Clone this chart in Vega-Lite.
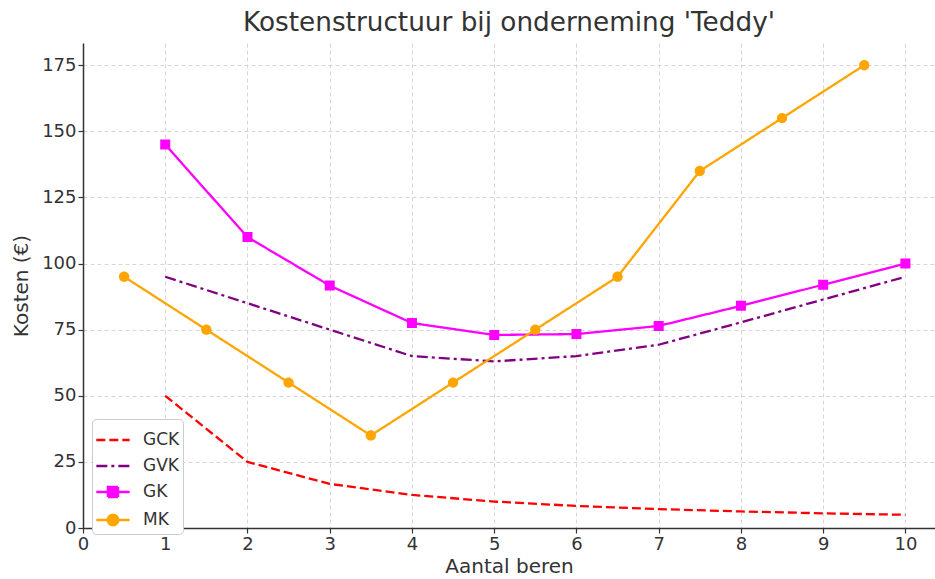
{
  "$schema": "https://vega.github.io/schema/vega-lite/v6.json",
  "width": 852,
  "height": 485,
  "autosize": {"type": "none"},
  "padding": {"left": 83, "top": 43, "right": 0, "bottom": 51},
  "background": "white",
  "title": {
    "text": "Kostenstructuur bij onderneming 'Teddy'",
    "font": "DejaVu Sans",
    "fontSize": 26.3,
    "fontWeight": "normal",
    "color": "#333333",
    "anchor": "middle",
    "offset": 7
  },
  "config": {
    "view": {"stroke": null},
    "font": "DejaVu Sans",
    "axis": {
      "labelFont": "DejaVu Sans",
      "labelFontSize": 18,
      "labelColor": "#333333",
      "titleFont": "DejaVu Sans",
      "titleFontSize": 20,
      "titleFontWeight": "normal",
      "titleColor": "#333333",
      "domainColor": "#333333",
      "domainWidth": 1.5,
      "tickColor": "#333333",
      "tickWidth": 1.2,
      "tickSize": 5,
      "gridColor": "#cccccc",
      "gridDash": [4, 3],
      "gridWidth": 0.8,
      "labelFlush": false
    }
  },
  "data": {
    "values": [
      {"serie": "GCK", "x": 1, "y": 50},
      {"serie": "GCK", "x": 2, "y": 25},
      {"serie": "GCK", "x": 3, "y": 16.67},
      {"serie": "GCK", "x": 4, "y": 12.5},
      {"serie": "GCK", "x": 5, "y": 10},
      {"serie": "GCK", "x": 6, "y": 8.33},
      {"serie": "GCK", "x": 7, "y": 7.14},
      {"serie": "GCK", "x": 8, "y": 6.25},
      {"serie": "GCK", "x": 9, "y": 5.56},
      {"serie": "GCK", "x": 10, "y": 5},
      {"serie": "GVK", "x": 1, "y": 95},
      {"serie": "GVK", "x": 2, "y": 85},
      {"serie": "GVK", "x": 3, "y": 75},
      {"serie": "GVK", "x": 4, "y": 65},
      {"serie": "GVK", "x": 5, "y": 63},
      {"serie": "GVK", "x": 6, "y": 65},
      {"serie": "GVK", "x": 7, "y": 69.3},
      {"serie": "GVK", "x": 8, "y": 77.75},
      {"serie": "GVK", "x": 9, "y": 86.4},
      {"serie": "GVK", "x": 10, "y": 95},
      {"serie": "GK", "x": 1, "y": 145},
      {"serie": "GK", "x": 2, "y": 110},
      {"serie": "GK", "x": 3, "y": 91.67},
      {"serie": "GK", "x": 4, "y": 77.5},
      {"serie": "GK", "x": 5, "y": 73},
      {"serie": "GK", "x": 6, "y": 73.33},
      {"serie": "GK", "x": 7, "y": 76.4},
      {"serie": "GK", "x": 8, "y": 84},
      {"serie": "GK", "x": 9, "y": 92},
      {"serie": "GK", "x": 10, "y": 100},
      {"serie": "MK", "x": 0.5, "y": 95},
      {"serie": "MK", "x": 1.5, "y": 75},
      {"serie": "MK", "x": 2.5, "y": 55},
      {"serie": "MK", "x": 3.5, "y": 35},
      {"serie": "MK", "x": 4.5, "y": 55},
      {"serie": "MK", "x": 5.5, "y": 75},
      {"serie": "MK", "x": 6.5, "y": 95},
      {"serie": "MK", "x": 7.5, "y": 135},
      {"serie": "MK", "x": 8.5, "y": 155},
      {"serie": "MK", "x": 9.5, "y": 175}
    ]
  },
  "encoding": {
    "x": {
      "field": "x",
      "type": "quantitative",
      "title": "Aantal beren",
      "scale": {"domain": [0, 10.36], "nice": false, "zero": false},
      "axis": {"values": [0, 1, 2, 3, 4, 5, 6, 7, 8, 9, 10], "titlePadding": 3, "labelPadding": 2}
    },
    "y": {
      "field": "y",
      "type": "quantitative",
      "title": "Kosten (€)",
      "scale": {"domain": [0, 183.4], "nice": false},
      "axis": {"values": [0, 25, 50, 75, 100, 125, 150, 175], "titlePadding": 10, "labelPadding": 2}
    },
    "color": {
      "field": "serie",
      "type": "nominal",
      "title": null,
      "scale": {
        "domain": ["GCK", "GVK", "GK", "MK"],
        "range": ["#ff0000", "#800080", "#ff00ff", "#ffa500"]
      },
      "legend": {
        "orient": "none",
        "legendX": 9,
        "legendY": 376,
        "fillColor": "white",
        "strokeColor": "#cccccc",
        "cornerRadius": 4,
        "padding": 3,
        "labelFont": "DejaVu Sans",
        "labelFontSize": 17,
        "labelColor": "#333333",
        "labelOffset": 12,
        "symbolSize": 1111,
        "symbolStrokeWidth": 2.5,
        "rowPadding": -2,
        "encode": {
          "symbols": {
            "update": {
              "stroke": {"scale": "color", "field": "value"},
              "fill": {"scale": "color", "field": "value"},
              "strokeWidth": {"value": 2.5},
              "opacity": {"value": 1}
            }
          }
        }
      }
    }
  },
  "layer": [
    {
      "mark": {"type": "line", "strokeWidth": 2.3},
      "encoding": {
        "strokeDash": {
          "field": "serie",
          "type": "nominal",
          "title": null,
          "scale": {
            "domain": ["GCK", "GVK", "GK", "MK"],
            "range": [[9, 4], [11, 4, 3, 4], [1, 0], [1, 0]]
          }
        }
      }
    },
    {
      "transform": [{"filter": "datum.serie === 'GK' || datum.serie === 'MK'"}],
      "mark": {"type": "point", "filled": true, "opacity": 1, "size": 1111, "strokeWidth": 0},
      "encoding": {
        "shape": {
          "field": "serie",
          "type": "nominal",
          "title": null,
          "scale": {
            "domain": ["GCK", "GVK", "GK", "MK"],
            "range": [
              "stroke",
              "stroke",
              "M-1,0H1M-0.3,-0.3H0.3V0.3H-0.3Z",
              "M-1,0H1M0.31,0A0.31,0.31,0,1,1,-0.31,0A0.31,0.31,0,1,1,0.31,0Z"
            ]
          }
        }
      }
    }
  ]
}
